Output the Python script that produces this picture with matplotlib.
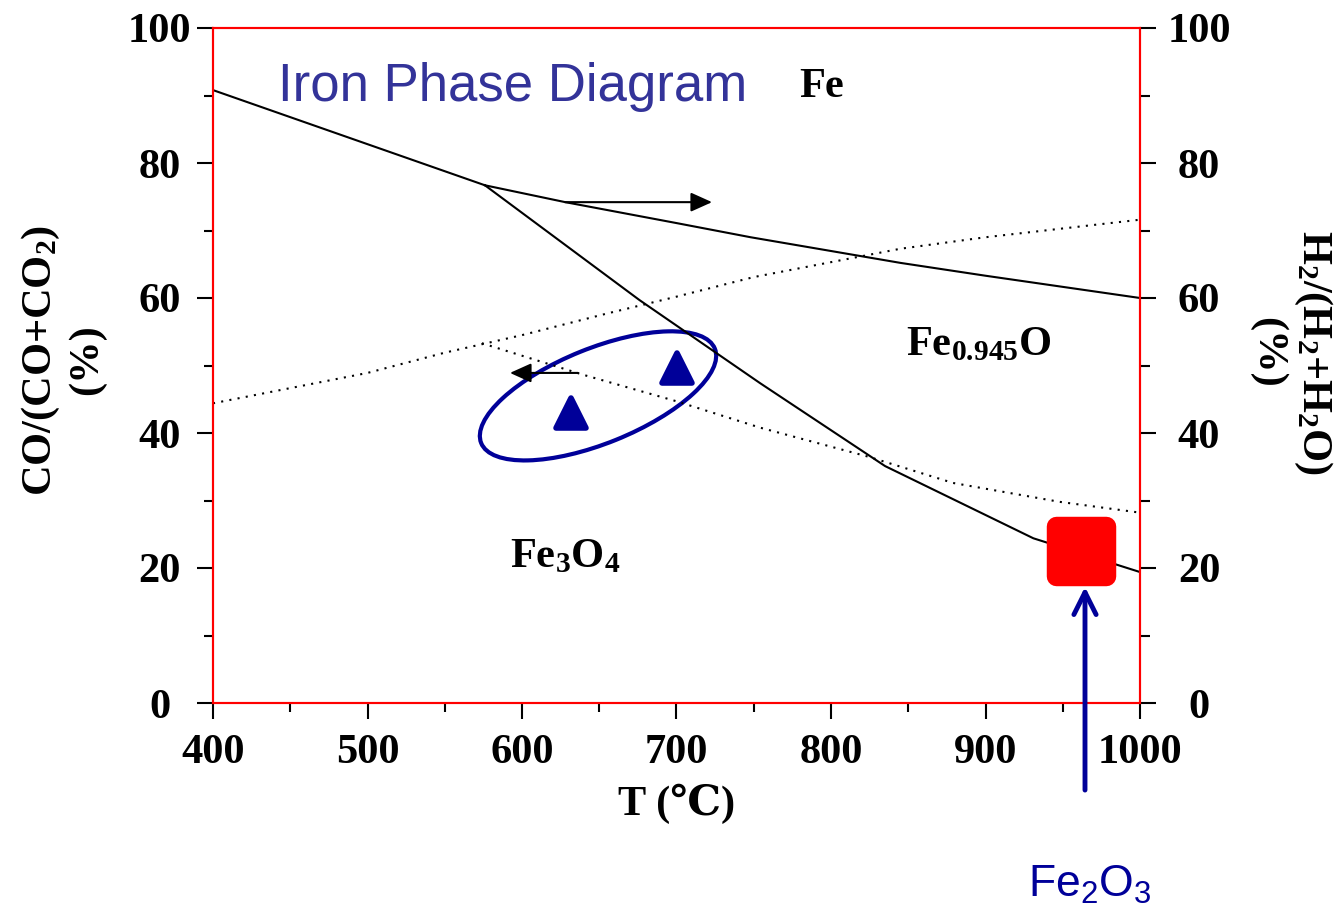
import matplotlib
matplotlib.use('Agg')
import matplotlib.pyplot as plt
from matplotlib.patches import Ellipse
from matplotlib.markers import MarkerStyle
from matplotlib.transforms import ScaledTranslation

# CO/(CO+CO2) equilibrium lines (solid)
t_co_fe_fe3o4 = [400, 576]
co_fe_fe3o4 = [90.8, 76.7]
t_co_fe_feo = [576, 628, 700, 748, 845, 900, 1000]
co_fe_feo = [76.7, 74.2, 71.1, 69.0, 65.2, 63.3, 60.0]
t_co_feo_fe3o4 = [576, 676, 754, 835, 931, 1000]
co_feo_fe3o4 = [76.7, 59.7, 47.4, 35.1, 24.4, 19.4]

# H2/(H2+H2O) equilibrium lines (dotted)
t_h2_upper = [400, 500, 550, 600, 655, 700, 750, 845, 900, 1000]
h2_upper = [44.4, 48.9, 51.9, 54.5, 57.7, 60.2, 63.1, 67.3, 69.0, 71.6]
t_h2_lower = [574, 640, 700, 754, 824, 879, 948, 1000]
h2_lower = [53.3, 48.6, 44.7, 40.8, 36.5, 32.6, 29.8, 28.2]

# measured points
t_points = [631.7, 700.1]
co_points = [42.9, 49.6]
t_fe2o3 = [961.8]
co_fe2o3 = [22.5]

x_major = [400, 500, 600, 700, 800, 900, 1000]
x_minor = [450, 550, 650, 750, 850, 950]
y_major = [0, 20, 40, 60, 80, 100]
y_minor = [10, 30, 50, 70, 90]

plt.rcParams['font.family'] = ['Liberation Serif', 'DejaVu Serif']
plt.rcParams['font.weight'] = 'bold'
plt.rcParams['axes.labelweight'] = 'bold'
plt.rcParams['font.size'] = 30.5

navy = '#000099'

fig = plt.figure(figsize=(13.4, 9.15), dpi=100)
ax = fig.add_axes([213 / 1340, 1 - 703 / 915, 927 / 1340, 675 / 915])
ax2 = ax.twinx()

ax.plot(t_co_fe_fe3o4, co_fe_fe3o4, color='black', lw=1.5)
ax.plot(t_co_fe_feo, co_fe_feo, color='black', lw=1.5)
ax.plot(t_co_feo_fe3o4, co_feo_fe3o4, color='black', lw=1.5)
ax.plot(t_h2_upper, h2_upper, color='black', lw=1.5, ls=(0, (1, 3)))
ax.plot(t_h2_lower, h2_lower, color='black', lw=1.5, ls=(0, (1, 3)))

# which axis each curve belongs to
ax.annotate('', xy=(723, 74.2), xytext=(627.8, 74.2),
            arrowprops=dict(arrowstyle='-|>,head_length=1,head_width=0.45',
                            color='black', lw=1.5, mutation_scale=13,
                            shrinkA=0, shrinkB=0))
ax.annotate('', xy=(592.2, 48.9), xytext=(636.2, 48.9),
            arrowprops=dict(arrowstyle='-|>,head_length=1,head_width=0.45',
                            color='black', lw=1.5, mutation_scale=13,
                            shrinkA=0, shrinkB=0))

ax.plot(t_points, co_points, ls='none',
        marker=MarkerStyle('^', joinstyle='round'), ms=22, mew=4,
        mfc=navy, mec=navy, zorder=5)
ell = Ellipse((0, 0), 2.52, 0.95, angle=22, fill=False, ec=navy, lw=3,
              transform=fig.dpi_scale_trans + ScaledTranslation(649.2, 45.5, ax.transData))
ax.add_patch(ell)

ax.text(442, 91.2, 'Iron Phase Diagram', color='#333399', fontsize=38,
        family='Liberation Sans', weight='normal', ha='left', va='center')
ax.text(794, 91.2, 'Fe', ha='center', va='center')
ax.text(896, 53.0, r'Fe$\mathregular{_{0.945}}$O', ha='center', va='center')
ax.text(628, 21.6, r'Fe$\mathregular{_3}$O$\mathregular{_4}$', ha='center', va='center')

for a in (ax, ax2):
    a.set_xlim(400, 1000)
    a.set_ylim(0, 100)
    for sp in a.spines.values():
        sp.set_color('red')
        sp.set_linewidth(1.5)

ax2.plot(t_fe2o3, co_fe2o3, ls='none',
         marker=MarkerStyle('s', joinstyle='round'), ms=36, mew=14,
         mfc='red', mec='red', zorder=6)
ax2.annotate('', xy=(964.4, 17.2), xytext=(964.4, -12.9),
             arrowprops=dict(arrowstyle='->,head_length=1,head_width=0.5',
                             color=navy, lw=3.5, mutation_scale=16,
                             shrinkA=0, shrinkB=0),
             annotation_clip=False)

ax.set_xticks(x_major)
ax.set_xticks(x_minor, minor=True)
ax.set_yticks(y_major)
ax.set_yticks(y_minor, minor=True)
ax2.set_yticks(y_major)
ax2.set_yticks(y_minor, minor=True)

ax.tick_params(which='major', direction='out', length=11.5, width=1.5, color='black')
ax.tick_params(which='minor', direction='out', length=6.5, width=1.5, color='black')
ax.tick_params(axis='x', which='major', pad=11)
ax.tick_params(axis='y', which='major', pad=27)
ax2.tick_params(axis='y', which='major', direction='out', length=11.5, width=1.5, pad=31)
ax2.tick_params(axis='y', which='minor', direction='out', length=7, width=1.5)
plt.setp(ax.get_yticklabels(), ha='center')
plt.setp(ax2.get_yticklabels(), ha='center')

ax.set_xlabel('T (\u2103)', labelpad=8)
fig.text(63 / 1340, 1 - 360 / 915, 'CO/(CO+CO$\\mathregular{_2}$)\n(%)',
         rotation=90, ha='center', va='center', multialignment='center')
fig.text(1291 / 1340, 1 - 352 / 915,
         'H$\\mathregular{_2}$/(H$\\mathregular{_2}$+H$\\mathregular{_2}$O)\n(%)',
         rotation=270, ha='center', va='center', multialignment='center')

fig.text(1090 / 1340, 1 - 885 / 915, 'Fe$\\mathregular{_2}$O$\\mathregular{_3}$',
         color=navy, fontsize=32, family='Liberation Sans', weight='normal',
         ha='center', va='center')

fig.savefig('out.png', dpi=100)
